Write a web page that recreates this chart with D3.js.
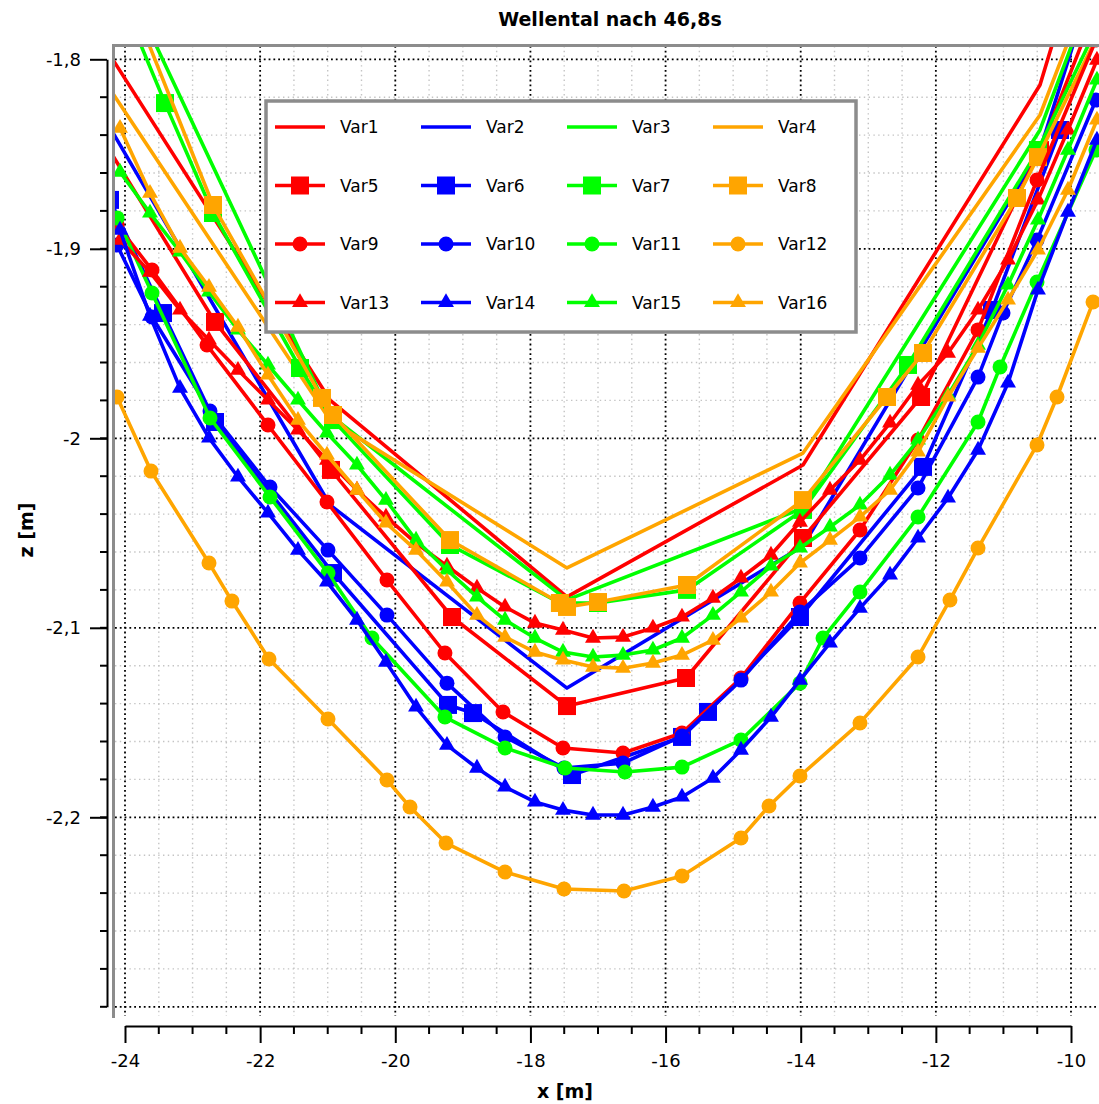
<!DOCTYPE html>
<html>
<head>
<meta charset="utf-8">
<script src="https://cdn.jsdelivr.net/npm/d3@7"></script>
<style>
  body { margin: 0; background: #fff; }
  svg { display: block; font-family: "DejaVu Sans", Verdana, sans-serif; }
</style>
</head>
<body>
<svg id="chart" width="1099" height="1104"></svg>
<script>
// ---- data -------------------------------------------------------------
const chartTitle = "Wellental nach 46,8s";
const xAxisTitle = "x [m]";
const yAxisTitle = "z [m]";

const xTicks = [-24, -22, -20, -18, -16, -14, -12, -10];
const xTickLabels = ["-24", "-22", "-20", "-18", "-16", "-14", "-12", "-10"];
const yTicks = [-1.8, -1.9, -2.0, -2.1, -2.2];
const yTickLabels = ["-1,8", "-1,9", "-2", "-2,1", "-2,2"];

const seriesNames = ["Var1","Var2","Var3","Var4","Var5","Var6","Var7","Var8",
                     "Var9","Var10","Var11","Var12","Var13","Var14","Var15","Var16"];

// coarse profiles (no markers)
const xCoarse = [-24.46, -20.966, -17.459, -13.966, -10.459, -6.966];
const zVar1 = [-1.7845, -1.9798, -2.0837, -2.0141, -1.8136, -1.4];
const zVar2 = [-1.8215, -2.0352, -2.1318, -2.0568, -1.8479, -1.452];
const zVar3 = [-1.723, -1.9877, -2.0853, -2.0368, -1.8373, -1.505];
const zVar4 = [-1.8030, -1.9904, -2.0684, -2.0078, -1.8294, -1.505];

// square-marker profiles
const xVar5 = [-24.414, -22.668, -20.951, -19.161, -17.459, -15.698, -13.966, -12.219, -10.459, -8.713];
const zVar5 = [-1.8373, -1.9386, -2.0167, -2.0943, -2.1413, -2.1265, -2.0526, -1.9782, -1.8479, -1.6896];
const xVar6 = [-24.222, -23.438, -22.668, -20.922, -19.220, -18.850, -17.385, -15.757, -15.372, -14.011, -12.190, -11.169, -10.163];
const zVar6 = [-1.8742, -1.9339, -1.9914, -2.0711, -2.1407, -2.1450, -2.1777, -2.1576, -2.1444, -2.0943, -2.0151, -1.9323, -1.8373];
const xVar7 = [-23.926, -23.408, -22.698, -21.410, -20.922, -19.190, -17.563, -17.000, -15.683, -13.966, -12.412, -10.489, -9.423];
const zVar7 = [-1.7787, -1.8231, -1.8811, -1.9629, -1.9904, -2.0563, -2.0869, -2.0869, -2.0800, -2.0378, -1.9613, -1.8479, -1.7687];
const xVar8 = [-23.778, -22.698, -21.085, -20.922, -19.190, -17.563, -17.459, -17.000, -15.683, -13.966, -12.723, -12.190, -10.799, -10.489, -9.423];
const zVar8 = [-1.7803, -1.8769, -1.9787, -1.9877, -2.0537, -2.0869, -2.0890, -2.0864, -2.0774, -2.0326, -1.9782, -1.9550, -1.8732, -1.8516, -1.7740];

// circle-marker profiles
const xVar9 = [-24.118, -23.600, -22.786, -21.884, -21.011, -20.123, -19.265, -18.406, -17.518, -16.630, -15.757, -14.884, -14.011, -13.123, -12.264, -11.376, -10.503, -9.631];
const zVar9 = [-1.8874, -1.9112, -1.9508, -1.9930, -2.0336, -2.0748, -2.1133, -2.1444, -2.1634, -2.1661, -2.1555, -2.1265, -2.0869, -2.0484, -2.0009, -1.9428, -1.8637, -1.7898];
const xVar10 = [-24.118, -23.600, -22.742, -21.854, -20.996, -20.123, -19.235, -18.376, -17.503, -16.630, -15.757, -14.884, -14.011, -13.123, -12.264, -11.376, -11.006, -10.503, -9.631];
const zVar10 = [-1.8980, -1.9360, -1.9856, -2.0257, -2.0590, -2.0933, -2.1292, -2.1576, -2.1740, -2.1714, -2.1571, -2.1276, -2.0917, -2.0632, -2.0262, -1.9677, -1.9339, -1.8954, -1.8215];
const xVar11 = [-24.118, -23.600, -22.742, -21.854, -20.996, -20.345, -19.265, -18.376, -17.488, -16.601, -15.757, -14.884, -14.011, -13.670, -13.123, -12.264, -11.376, -11.050, -10.503, -9.631];
const zVar11 = [-1.8837, -1.9233, -1.9893, -2.0310, -2.0711, -2.1054, -2.1471, -2.1634, -2.1740, -2.1761, -2.1735, -2.1592, -2.1292, -2.1054, -2.0811, -2.0415, -1.9914, -1.9624, -1.9175, -1.8479];
const xVar12 = [-24.118, -23.615, -22.757, -22.417, -21.869, -20.996, -20.123, -19.782, -19.249, -18.376, -17.503, -16.615, -15.757, -14.884, -14.469, -14.011, -13.123, -12.264, -11.791, -11.376, -10.503, -10.207, -9.674];
const zVar12 = [-1.9782, -2.0173, -2.0658, -2.0859, -2.1165, -2.1481, -2.1803, -2.1946, -2.2136, -2.2289, -2.2378, -2.2389, -2.2310, -2.2109, -2.1940, -2.1782, -2.1502, -2.1154, -2.0853, -2.0579, -2.0035, -1.9782, -1.9281];

// triangle-marker profiles (shared fine x positions)
const xFine = [-24.074, -23.630, -23.186, -22.757, -22.328, -21.884, -21.440, -21.011, -20.567, -20.138,
               -19.693, -19.235, -18.791, -18.376, -17.933, -17.518, -17.074, -16.630, -16.187, -15.757,
               -15.299, -14.884, -14.440, -14.011, -13.567, -13.123, -12.678, -12.264, -11.820, -11.376,
               -10.932, -10.489, -10.045, -9.616];
const zVar13 = [-1.8954, -1.9123, -1.9323, -1.9481, -1.9640, -1.9798, -1.9956, -2.0115, -2.0273, -2.0415,
                -2.0553, -2.0674, -2.0790, -2.0890, -2.0975, -2.1012, -2.1054, -2.1049, -2.1001, -2.0943,
                -2.0843, -2.0737, -2.0616, -2.0442, -2.0273, -2.0115, -1.9919, -1.9719, -1.9550, -1.9323,
                -1.9059, -1.8742, -1.8373, -1.8004];
const zVar14 = [-1.8901, -1.9355, -1.9735, -1.9998, -2.0204, -2.0394, -2.0590, -2.0758, -2.0959, -2.1181,
                -2.1418, -2.1619, -2.1740, -2.1840, -2.1919, -2.1962, -2.1988, -2.1988, -2.1946, -2.1893,
                -2.1793, -2.1645, -2.1471, -2.1276, -2.1080, -2.0896, -2.0721, -2.0526, -2.0315, -2.0062,
                -1.9708, -1.9217, -1.8806, -1.8426];
const zVar15 = [-1.8595, -1.8811, -1.9017, -1.9228, -1.9428, -1.9613, -1.9798, -1.9972, -2.0141, -2.0326,
                -2.0537, -2.0695, -2.0837, -2.0959, -2.1054, -2.1128, -2.1154, -2.1144, -2.1117, -2.1054,
                -2.0933, -2.0811, -2.0674, -2.0579, -2.0468, -2.0352, -2.0194, -2.0009, -1.9772, -1.9508,
                -1.9191, -1.8848, -1.8479, -1.8109];
const zVar16 = [-1.8363, -1.8706, -1.8996, -1.9202, -1.9413, -1.9666, -1.9904, -2.0088, -2.0273, -2.0447,
                -2.0590, -2.0758, -2.0933, -2.1049, -2.1128, -2.1170, -2.1207, -2.1213, -2.1186, -2.1144,
                -2.1065, -2.0948, -2.0811, -2.0658, -2.0537, -2.0415, -2.0273, -2.0072, -1.9782, -1.9524,
                -1.9270, -1.9006, -1.8690, -1.8320];

// ---- series table ------------------------------------------------------
const palette = ["#ff0000", "#0000ff", "#00ff00", "#ffa500"];
const markerKinds = [null, "square", "circle", "triangle"];
const xs = [xCoarse, xCoarse, xCoarse, xCoarse, xVar5, xVar6, xVar7, xVar8,
            xVar9, xVar10, xVar11, xVar12, xFine, xFine, xFine, xFine];
const zs = [zVar1, zVar2, zVar3, zVar4, zVar5, zVar6, zVar7, zVar8,
            zVar9, zVar10, zVar11, zVar12, zVar13, zVar14, zVar15, zVar16];
const series = seriesNames.map((name, i) => ({
  name,
  color: palette[i % 4],
  marker: markerKinds[Math.floor(i / 4)],
  points: xs[i].map((x, k) => ({ x, z: zs[i][k] }))
}));

// ---- layout ------------------------------------------------------------
const svg = d3.select("#chart");
const plot = { left: 115, top: 46, right: 1099, bottom: 1016 };

const x = d3.scaleLinear().domain([-24, -10]).range([125, 1071]);
const y = d3.scaleLinear().domain([-2.3, -1.8]).range([1006.8, 59.3]);

svg.append("defs").append("clipPath").attr("id", "plotClip")
  .append("rect")
  .attr("x", plot.left).attr("y", plot.top)
  .attr("width", plot.right - plot.left).attr("height", plot.bottom - plot.top);

// title
svg.append("text")
  .attr("x", 610).attr("y", 26)
  .attr("text-anchor", "middle")
  .attr("font-weight", "bold").attr("font-size", 19)
  .text(chartTitle);

// grid
const grid = svg.append("g").attr("clip-path", "url(#plotClip)");
const xMinor = d3.range(-24.5, -9.0, 0.5).filter(v => Math.abs(v % 2) > 1e-6);
const yMinor = d3.range(-1.76, -2.32, -0.02).filter(v => Math.abs(Math.round(v * 10) - v * 10) > 1e-6);

grid.selectAll("line.xminor").data(xMinor).join("line")
  .attr("x1", d => x(d)).attr("x2", d => x(d))
  .attr("y1", plot.top).attr("y2", plot.bottom)
  .attr("stroke", "#c4c4c4").attr("stroke-width", 1.4).attr("stroke-dasharray", "1.4,3.4");
grid.selectAll("line.yminor").data(yMinor).join("line")
  .attr("y1", d => y(d)).attr("y2", d => y(d))
  .attr("x1", plot.left).attr("x2", plot.right)
  .attr("stroke", "#c4c4c4").attr("stroke-width", 1.4).attr("stroke-dasharray", "1.4,3.4");
grid.selectAll("line.xmajor").data(xTicks).join("line")
  .attr("x1", d => x(d)).attr("x2", d => x(d))
  .attr("y1", plot.top).attr("y2", plot.bottom)
  .attr("stroke", "#000").attr("stroke-width", 1.8).attr("stroke-dasharray", "1.8,3");
grid.selectAll("line.ymajor").data(yTicks.concat([-2.3])).join("line")
  .attr("y1", d => y(d)).attr("y2", d => y(d))
  .attr("x1", plot.left).attr("x2", plot.right)
  .attr("stroke", "#000").attr("stroke-width", 1.8).attr("stroke-dasharray", "1.8,3");

// series
const line = d3.line().x(d => x(d.x)).y(d => y(d.z));
const markerPath = {
  square: d3.symbol().type(d3.symbolSquare).size(18 * 18),
  circle: d3.symbol().type(d3.symbolCircle).size(Math.PI * 7.5 * 7.5),
  triangle: d3.symbol().type(d3.symbolTriangle).size(110)
};
const layer = svg.append("g").attr("clip-path", "url(#plotClip)");
series.forEach(s => {
  const g = layer.append("g");
  g.append("path").datum(s.points)
    .attr("d", line).attr("fill", "none")
    .attr("stroke", s.color).attr("stroke-width", 3.6)
    .attr("stroke-linejoin", "round");
  if (s.marker) {
    g.selectAll("path.m").data(s.points).join("path")
      .attr("transform", d => `translate(${x(d.x)},${y(d.z)})`)
      .attr("d", markerPath[s.marker]())
      .attr("fill", s.color);
  }
});

// frame (left and top edges of the plot panel)
svg.append("line").attr("x1", 113.5).attr("x2", 113.5).attr("y1", 44).attr("y2", 1018)
  .attr("stroke", "#8c8c8c").attr("stroke-width", 3);
svg.append("line").attr("x1", 112).attr("x2", 1099).attr("y1", 45.5).attr("y2", 45.5)
  .attr("stroke", "#8c8c8c").attr("stroke-width", 3);

// y axis
const yAxisG = svg.append("g").attr("transform", "translate(107,0)");
yAxisG.call(d3.axisLeft(y).tickValues(yTicks).tickSize(17).tickSizeOuter(0).tickPadding(9)
  .tickFormat((d, i) => yTickLabels[i]));
yAxisG.append("g").selectAll("line").data(d3.range(-1.82, -2.301, -0.02)).join("line")
  .attr("x1", -7).attr("x2", 0).attr("y1", d => y(d)).attr("y2", d => y(d))
  .attr("stroke", "#000").attr("stroke-width", 2);
yAxisG.select(".domain").attr("stroke-width", 2);
yAxisG.selectAll(".tick line").attr("stroke-width", 2);
yAxisG.selectAll("text").attr("font-size", 18).attr("font-family", "DejaVu Sans").attr("fill", "#000");

// x axis
const xAxisG = svg.append("g").attr("transform", "translate(0,1026)");
xAxisG.call(d3.axisBottom(x).tickValues(xTicks).tickSize(17).tickSizeOuter(0).tickPadding(11)
  .tickFormat((d, i) => xTickLabels[i]));
xAxisG.append("g").selectAll("line").data(d3.range(-23.5, -10, 0.5).filter(v => Math.abs(v % 2) > 1e-6)).join("line")
  .attr("x1", d => x(d)).attr("x2", d => x(d)).attr("y1", 0).attr("y2", 8)
  .attr("stroke", "#000").attr("stroke-width", 2);
xAxisG.select(".domain").attr("stroke-width", 2);
xAxisG.selectAll(".tick line").attr("stroke-width", 2);
xAxisG.selectAll("text").attr("font-size", 18).attr("font-family", "DejaVu Sans").attr("fill", "#000");

// axis titles
svg.append("text").attr("x", 565).attr("y", 1098).attr("text-anchor", "middle")
  .attr("font-weight", "bold").attr("font-size", 19).text(xAxisTitle);
svg.append("text").attr("transform", "translate(33,530) rotate(-90)").attr("text-anchor", "middle")
  .attr("font-weight", "bold").attr("font-size", 19).text(yAxisTitle);

// legend
const legend = svg.append("g");
legend.append("rect").attr("x", 266).attr("y", 101).attr("width", 590).attr("height", 231)
  .attr("fill", "#fff").attr("stroke", "#8c8c8c").attr("stroke-width", 3.5);
series.forEach((s, i) => {
  const col = i % 4, row = Math.floor(i / 4);
  const x0 = 275 + col * 146, yRow = 127 + row * 58.5;
  const g = legend.append("g").attr("transform", `translate(${x0},${yRow})`);
  g.append("line").attr("x1", 0).attr("x2", 50).attr("y1", 0).attr("y2", 0)
    .attr("stroke", s.color).attr("stroke-width", 3.6);
  if (s.marker) {
    g.append("path").attr("transform", "translate(25,0)")
      .attr("d", markerPath[s.marker]()).attr("fill", s.color);
  }
  g.append("text").attr("x", 65).attr("y", 6).attr("font-size", 17).text(s.name);
});
</script>
</body>
</html>
